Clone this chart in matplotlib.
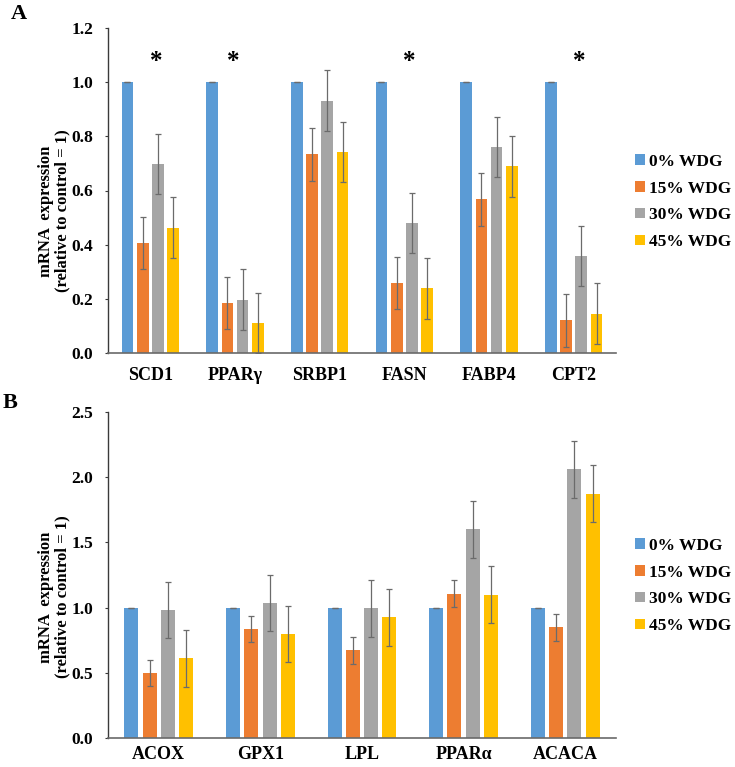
import matplotlib
matplotlib.use("Agg")
import matplotlib.pyplot as plt
import numpy as np

plt.rcParams['font.family'] = ['Liberation Serif', 'DejaVu Serif']
plt.rcParams['font.weight'] = 'bold'

series = ["0% WDG", "15% WDG", "30% WDG", "45% WDG"]
colors = ["#5B9BD5", "#ED7D31", "#A5A5A5", "#FFC000"]

# Panel A
genes_a = ["SCD1", "PPARγ", "SRBP1", "FASN", "FABP4", "CPT2"]
a_0 = [1.0, 1.0, 1.0, 1.0, 1.0, 1.0]
a_15 = [0.407, 0.184, 0.734, 0.258, 0.568, 0.121]
a_30 = [0.698, 0.197, 0.932, 0.480, 0.761, 0.358]
a_45 = [0.462, 0.111, 0.742, 0.239, 0.690, 0.145]
a_err0 = [0, 0, 0, 0, 0, 0]
a_err15 = [0.097, 0.097, 0.098, 0.097, 0.098, 0.098]
a_err30 = [0.111, 0.112, 0.112, 0.112, 0.112, 0.112]
a_err45 = [0.113, 0.111, 0.112, 0.112, 0.113, 0.112]
star_genes_a = ["SCD1", "PPARγ", "FASN", "CPT2"]
star_offsets_a = [0.07, -0.02, 0.06, 0.07]

# Panel B
genes_b = ["ACOX", "GPX1", "LPL", "PPARα", "ACACA"]
b_0 = [1.0, 1.0, 1.0, 1.0, 1.0]
b_15 = [0.497, 0.835, 0.674, 1.107, 0.850]
b_30 = [0.981, 1.035, 0.994, 1.601, 2.062]
b_45 = [0.612, 0.797, 0.927, 1.099, 1.875]
b_err0 = [0, 0, 0, 0, 0]
b_err15 = [0.100, 0.102, 0.103, 0.102, 0.103]
b_err30 = [0.217, 0.218, 0.217, 0.218, 0.218]
b_err45 = [0.218, 0.218, 0.218, 0.219, 0.219]

W, H = 735, 767
fig = plt.figure(figsize=(W / 100, H / 100), dpi=100)

def fx(px):
    return px / W

def fy(py):
    return 1 - py / H

def panel(rect, genes, vals, errs, ymax, ystep, legend_y, xpad):
    ax = fig.add_axes(rect)
    x = np.arange(len(genes))
    step, width = 0.18, 0.138
    for k, (v, e) in enumerate(zip(vals, errs)):
        ax.bar(x + (k - 1.5) * step, v, width, color=colors[k], label=series[k],
               yerr=e, error_kw=dict(ecolor="#6b6b6b", elinewidth=0.9, capsize=2.2, capthick=0.9),
               zorder=2)
    ax.set_xlim(-0.5, len(genes) - 0.5)
    ax.set_ylim(0, ymax)
    ax.set_yticks(np.arange(0, ymax + 1e-9, ystep))
    ax.set_yticklabels([f"{t:.1f}" for t in np.arange(0, ymax + 1e-9, ystep)])
    ax.set_xticks(x)
    ax.set_xticklabels(genes)
    for s in ["top", "right"]:
        ax.spines[s].set_visible(False)
    ax.spines["left"].set_color("#3a3a3a")
    ax.spines["bottom"].set_color("#6a6a6a")
    ax.spines["left"].set_linewidth(1.0)
    ax.spines["bottom"].set_linewidth(1.2)
    ax.tick_params(axis="y", length=2.5, width=0.8, color="#3a3a3a", pad=8, labelsize=12.5)
    ax.tick_params(axis="x", length=0, pad=xpad, labelsize=13)
    for lab in ax.get_xticklabels() + ax.get_yticklabels():
        lab.set_fontweight("bold")
    fig.legend(*ax.get_legend_handles_labels(), loc="center left",
               bbox_to_anchor=(fx(635), legend_y), frameon=False,
               handlelength=0.55, handleheight=0.55, handletextpad=0.25,
               borderpad=0, borderaxespad=0, labelspacing=0.62,
               prop=dict(size=12.5, weight="bold"))
    return ax

axA = panel([fx(108), fy(353), fx(616) - fx(108), fy(28) - fy(353)], genes_a,
            [a_0, a_15, a_30, a_45], [a_err0, a_err15, a_err30, a_err45], 1.2, 0.2, fy(202), 10)
for g, off in zip(star_genes_a, star_offsets_a):
    i = genes_a.index(g)
    axA.text(i + off, 1.075, "*", ha="center", va="center", fontsize=18, fontweight="bold")

axB = panel([fx(108), fy(738), fx(616) - fx(108), fy(412) - fy(738)], genes_b,
            [b_0, b_15, b_30, b_45], [b_err0, b_err15, b_err30, b_err45], 2.5, 0.5, fy(586), 5.5)

ylabel = "mRNA  expression\n(relative to control = 1)"
fig.text(fx(54), fy(211), ylabel, rotation=90, ha="center", va="center",
         multialignment="center", fontsize=12, fontweight="bold", linespacing=1.05)
fig.text(fx(54), fy(597), ylabel, rotation=90, ha="center", va="center",
         multialignment="center", fontsize=12, fontweight="bold", linespacing=1.05)

fig.text(fx(11), fy(4), "A", ha="left", va="top", fontsize=16, fontweight="bold")
fig.text(fx(3), fy(393), "B", ha="left", va="top", fontsize=16, fontweight="bold")

fig.savefig("out.png", dpi=100)
